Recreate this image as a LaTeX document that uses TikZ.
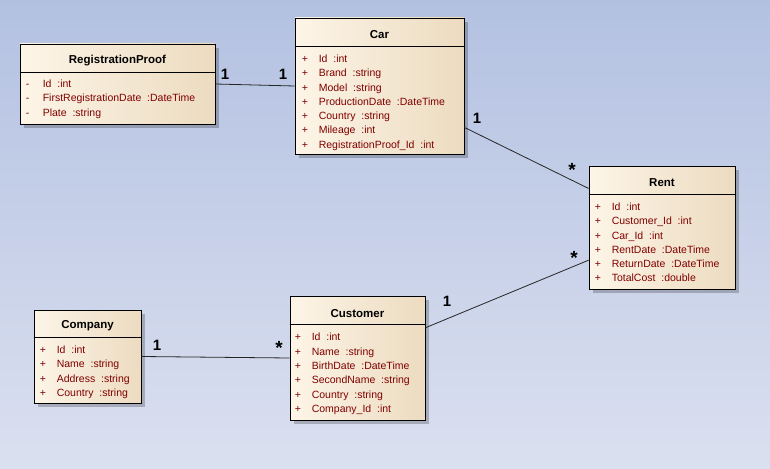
\documentclass[tikz,border=0pt]{standalone}
\usepackage{fontspec}
\setmainfont{Liberation Sans}
\usetikzlibrary{shadows}

\definecolor{bgtop}{RGB}{179,193,225}
\definecolor{bgbottom}{RGB}{219,224,240}
\definecolor{boxleft}{RGB}{253,245,231}
\definecolor{boxright}{RGB}{236,219,192}
\definecolor{attrred}{RGB}{128,0,0}

\newcommand{\attrpub}{\makebox[17pt][l]{+}}
\newcommand{\attrpriv}{\makebox[17pt][l]{-}}

\tikzset{
  classbox/.style={rectangle, draw=black, line width=0.8pt, inner sep=0pt,
    left color=boxleft, right color=boxright,
    general shadow={fill=black, opacity=0.22, shadow xshift=4pt, shadow yshift=-4pt}},
  classtitle/.style={inner sep=0pt, font=\fontsize{11.5}{13}\selectfont\bfseries},
  classattrs/.style={anchor=north west, inner sep=0pt, align=left, text=attrred,
    font=\fontsize{10.5}{14.3}\selectfont},
  assoc/.style={line width=0.8pt, draw=black!85},
  mult/.style={inner sep=0pt, font=\fontsize{15}{18}\selectfont\bfseries},
  multstar/.style={mult, font=\fontsize{19}{20}\selectfont\bfseries}
}

\begin{document}
\begin{tikzpicture}[x=1pt,y=-1pt]

        % background
        \fill[top color=bgtop, bottom color=bgbottom] (0,0) rectangle (770,468);
        \useasboundingbox (0,0) rectangle (770,468);

        % RegistrationProof
        \node[classbox, minimum width=195, minimum height=80] (regproof) at (117.5,84) {};
        \draw ([yshift=-29pt]regproof.north west) -- ([yshift=-29pt]regproof.north east);
        \node[classtitle] (regprooftitle) at ([yshift=-17pt]regproof.north) {RegistrationProof};
        \node[classattrs] (regproofattrs) at ([shift={(6pt,-36pt)}]regproof.north west)
          {\attrpriv Id\ \ :int\\ \attrpriv FirstRegistrationDate\ \ :DateTime\\ \attrpriv Plate\ \ :string};

        % Car
        \node[classbox, minimum width=169, minimum height=136] (car) at (379.5,86) {};
        \draw ([yshift=-29pt]car.north west) -- ([yshift=-29pt]car.north east);
        \node[classtitle] (cartitle) at ([yshift=-17pt]car.north) {Car};
        \node[classattrs] (carattrs) at ([shift={(7pt,-37pt)}]car.north west)
          {\attrpub Id\ \ :int\\ \attrpub Brand\ \ :string\\ \attrpub Model\ \ :string\\
           \attrpub ProductionDate\ \ :DateTime\\ \attrpub Country\ \ :string\\
           \attrpub Mileage\ \ :int\\ \attrpub RegistrationProof\_Id\ \ :int};

        % Rent
        \node[classbox, minimum width=146, minimum height=123] (rent) at (662,227.5) {};
        \draw ([yshift=-29pt]rent.north west) -- ([yshift=-29pt]rent.north east);
        \node[classtitle] (renttitle) at ([yshift=-17pt]rent.north) {Rent};
        \node[classattrs] (rentattrs) at ([shift={(6pt,-37pt)}]rent.north west)
          {\attrpub Id\ \ :int\\ \attrpub Customer\_Id\ \ :int\\ \attrpub Car\_Id\ \ :int\\
           \attrpub RentDate\ \ :DateTime\\ \attrpub ReturnDate\ \ :DateTime\\
           \attrpub TotalCost\ \ :double};

        % Company
        \node[classbox, minimum width=107, minimum height=93] (company) at (87.5,356.5) {};
        \draw ([yshift=-28pt]company.north west) -- ([yshift=-28pt]company.north east);
        \node[classtitle] (companytitle) at ([yshift=-16.5pt]company.north) {Company};
        \node[classattrs] (companyattrs) at ([shift={(6pt,-36pt)}]company.north west)
          {\attrpub Id\ \ :int\\ \attrpub Name\ \ :string\\ \attrpub Address\ \ :string\\
           \attrpub Country\ \ :string};

        % Customer
        \node[classbox, minimum width=135, minimum height=124] (customer) at (357.5,358) {};
        \draw ([yshift=-29pt]customer.north west) -- ([yshift=-29pt]customer.north east);
        \node[classtitle] (customertitle) at ([yshift=-17.5pt]customer.north) {Customer};
        \node[classattrs] (customerattrs) at ([shift={(5pt,-37.5pt)}]customer.north west)
          {\attrpub Id\ \ :int\\ \attrpub Name\ \ :string\\ \attrpub BirthDate\ \ :DateTime\\
           \attrpub SecondName\ \ :string\\ \attrpub Country\ \ :string\\
           \attrpub Company\_Id\ \ :int};

        % associations
        \draw[assoc] (regproof.east) -- (car.west);
        \draw[assoc] (car.-26.4) -- (rent.152.8);
        \draw[assoc] (customer.24.7) -- (rent.204);
        \draw[assoc] (company.east) -- (customer.west);

        % multiplicities
        \node[mult] (regprooftocar) at (225,74) {1};
        \node[mult] (cartoregproof) at (283,74) {1};
        \node[mult] (cartorent) at (477,118) {1};
        \node[multstar] (renttocar) at (572,170) {*};
        \node[mult] (customertorent) at (447,301) {1};
        \node[multstar] (renttocustomer) at (574,258) {*};
        \node[mult] (companytocustomer) at (157,345) {1};
        \node[multstar] (customertocompany) at (279,348) {*};
        \end{tikzpicture}
\end{document}
